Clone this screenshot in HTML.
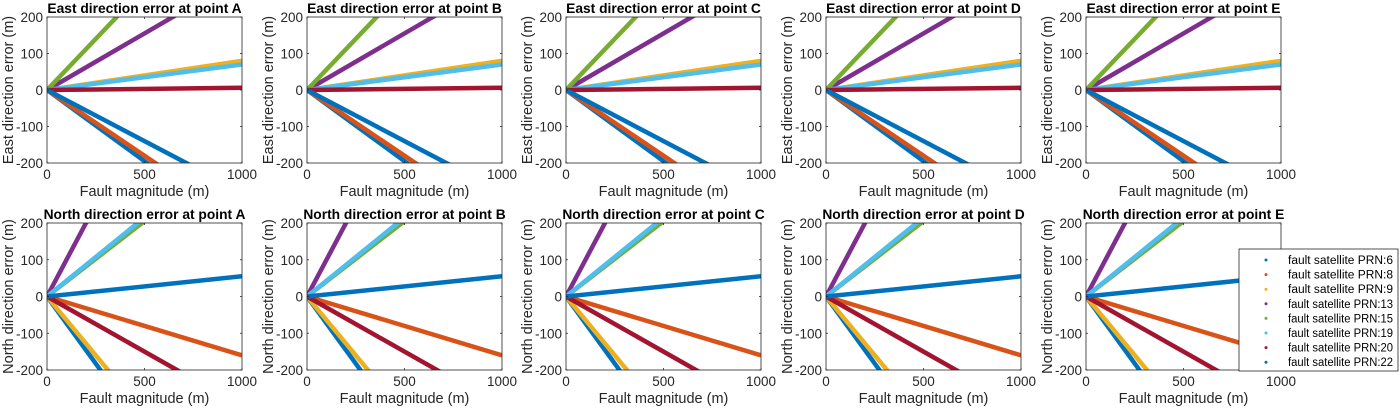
<!DOCTYPE html>
<html><head><meta charset="utf-8">
<style>
html,body{margin:0;padding:0;background:#fff;width:1400px;height:410px;overflow:hidden;}
svg{display:block;font-family:"Liberation Sans",Arial,sans-serif;}
</style></head>
<body>
<svg id="chart" width="1400" height="410" viewBox="0 0 1400 410"></svg>
<script>
const points = ['A','B','C','D','E'];
const prns = ['6','8','9','13','15','19','20','22'];
const colors = ['#0072BD','#D95319','#EDB120','#7E2F8E','#77AC30','#4DBEEE','#A2142F','#0072BD'];
// slopes: error (m) per m of fault magnitude, per series (order = prns)
const eastSlopes = [-0.39,-0.36,0.08,0.31,0.56,0.07,0.006,-0.28];
const northSlopes = [-0.73,-0.16,-0.64,1.0,0.41,0.43,-0.30,0.055];
const xTicks = [0,500,1000];
const yTicks = [-200,-100,0,100,200];

const svg = document.getElementById('chart');
const NS = 'http://www.w3.org/2000/svg';
function mk(tag, attrs, parent){
  const e = document.createElementNS(NS, tag);
  for (const k in attrs) e.setAttribute(k, attrs[k]);
  (parent||svg).appendChild(e);
  return e;
}
const colX = [47,307,566,826,1086];
const W = 195;
const rows = [{top:17,bottom:163,name:'East',slopes:eastSlopes},{top:223,bottom:370,name:'North',slopes:northSlopes}];

rows.forEach((row, ri) => {
  points.forEach((p, ci) => {
    const x0 = colX[ci], x1 = x0 + W, y0 = row.top, y1 = row.bottom;
    const sx = v => x0 + (v/1000)*(x1-x0);
    const sy = v => y1 - ((v+200)/400)*(y1-y0);
    const g = mk('g', {});
    
    
    const cid = 'clip'+ri+ci;
    const cp = mk('clipPath', {id:cid}, g);
    mk('rect', {x:x0, y:y0, width:W, height:y1-y0}, cp);
    mk('rect', {x:x0, y:y0, width:W, height:y1-y0, fill:'#fff', stroke:'none'}, g);
    const sg = mk('g', {'clip-path':'url(#'+cid+')'}, g);
    row.slopes.forEach((s, si) => {
      const l = mk('line', {x1:sx(0), y1:sy(0), x2:sx(1000), y2:sy(s*1000), stroke:colors[si], 'stroke-width':4.5}, sg);
      
      
    });
    const b = mk('rect', {x:x0, y:y0, width:W, height:y1-y0, fill:'none', stroke:'#262626', 'stroke-width':0.8}, g);
    
    
    xTicks.forEach(t => {
      mk('line', {x1:sx(t), x2:sx(t), y1:y1, y2:y1-2, stroke:'#262626','stroke-width':0.8}, g);
      mk('line', {x1:sx(t), x2:sx(t), y1:y0, y2:y0+2, stroke:'#262626','stroke-width':0.8}, g);
      const tx = mk('text', {x:sx(t), y:y1+16, 'text-anchor':'middle', 'font-size':13.5, fill:'#262626'}, g);
      tx.textContent = t;
      
      
    });
    yTicks.forEach(t => {
      mk('line', {x1:x0, x2:x0+2, y1:sy(t), y2:sy(t), stroke:'#262626','stroke-width':0.8}, g);
      mk('line', {x1:x1, x2:x1-2, y1:sy(t), y2:sy(t), stroke:'#262626','stroke-width':0.8}, g);
      const tx = mk('text', {x:x0-4, y:sy(t)+5, 'text-anchor':'end', 'font-size':13.5, fill:'#262626'}, g);
      tx.textContent = t;
      
      
    });
    const title = mk('text', {x:(x0+x1)/2, y:y0-4, 'text-anchor':'middle', 'font-size':13.8, 'font-weight':'bold', fill:'#000'}, g);
    title.textContent = row.name+' direction error at point '+p;
    
    
    const xl = mk('text', {x:(x0+x1)/2, y:y1+33, 'text-anchor':'middle', 'font-size':14.5, fill:'#262626'}, g);
    xl.textContent = 'Fault magnitude (m)';
    
    
    const cy = (y0+y1)/2, cx = x0-34;
    const yl = mk('text', {x:cx, y:cy, 'text-anchor':'middle', 'font-size':14.5, fill:'#262626', transform:'rotate(-90 '+cx+' '+cy+')'}, g);
    yl.textContent = row.name+' direction error (m)';
    
    
  });
});

// legend
const lg = mk('g', {});


mk('rect', {x:1239, y:249, width:159, height:122, fill:'#fff', stroke:'#262626', 'stroke-width':0.8}, lg);
prns.forEach((p, i) => {
  const y = 260 + i*14.6;
  const e = mk('g', {}, lg);
  
  
  mk('circle', {cx:1266, cy:y, r:1.5, fill:colors[i]}, e);
  const t = mk('text', {x:1288, y:y+4, 'font-size':11.5, fill:'#000', textLength:105, lengthAdjust:'spacingAndGlyphs'}, e);
  t.textContent = 'fault satellite PRN:'+p;
});
</script>
</body></html>
